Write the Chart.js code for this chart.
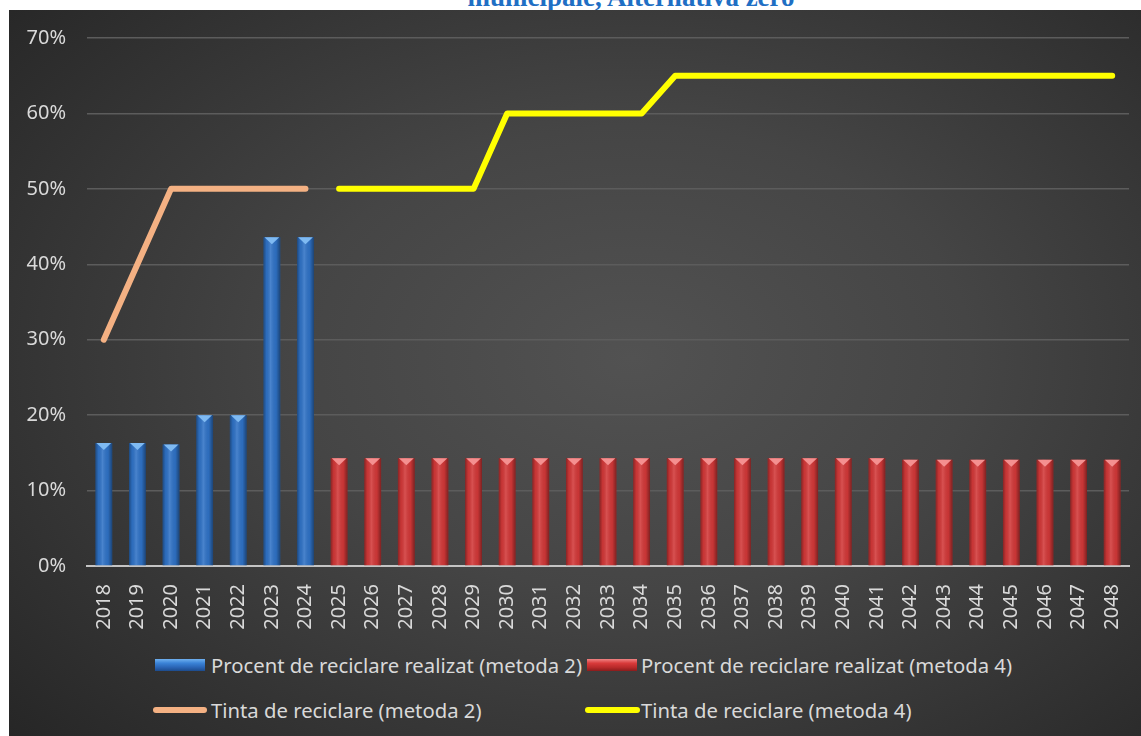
<!DOCTYPE html>
<html>
<head>
<meta charset="utf-8">
<script src="https://cdn.jsdelivr.net/npm/chart.js@4"></script>
<style>
  html, body { margin: 0; padding: 0; background: #ffffff; width: 1141px; height: 736px; overflow: hidden; position: relative; }
  #title { position: absolute; left: 0; width: 1141px; top: -16px; text-align: center; font-family: "Liberation Serif", serif; font-weight: bold; font-size: 27px; line-height: 27px; color: #1F6FC4; padding-left: 121px; box-sizing: border-box; }
  #panel { position: absolute; left: 9px; top: 10px; width: 1132px; height: 726px;
    background: radial-gradient(ellipse 75% 80% at 55% 48%, #525252 0%, #454545 40%, #2d2d2d 85%, #252525 100%); }
  #panel canvas { position: absolute; left: 0; top: 0; }
  .lg { position: absolute; font-family: "Noto Sans", sans-serif; font-size: 20.3px; color: #d9d9d9; line-height: 24px; white-space: nowrap; }
  .sw { position: absolute; }
</style>
</head>
<body>
<div id="title">municipale, Alternativa zero</div>
<div id="panel"><canvas id="c" width="1132" height="630"></canvas></div>
<div class="sw" id="sw0" style="left:155px;top:659px;width:50px;height:12px;background:linear-gradient(#6fb0ef 0%, #3a82d6 35%, #2a64b4 70%, #1d4b8c 100%);"></div>
<div class="lg" id="lg0" style="left:211px;top:653px;"></div>
<div class="sw" id="sw1" style="left:587px;top:659px;width:50px;height:12px;background:linear-gradient(#f08484 0%, #d83a3a 35%, #b82a2a 70%, #8a1c1c 100%);"></div>
<div class="lg" id="lg1" style="left:641px;top:653px;"></div>
<div class="sw" id="sw2" style="left:153px;top:707px;width:54px;height:6px;border-radius:3px;background:#F4B183;"></div>
<div class="lg" id="lg2" style="left:211px;top:698px;"></div>
<div class="sw" id="sw3" style="left:585px;top:707px;width:55px;height:6px;border-radius:3px;background:#FFFF00;"></div>
<div class="lg" id="lg3" style="left:641px;top:698px;"></div>
<script>
const years = ["2018","2019","2020","2021","2022","2023","2024","2025","2026","2027","2028","2029","2030","2031","2032","2033","2034","2035","2036","2037","2038","2039","2040","2041","2042","2043","2044","2045","2046","2047","2048"];
const seriesNames = [
  "Procent de reciclare realizat (metoda 2)",
  "Procent de reciclare realizat (metoda 4)",
  "Tinta de reciclare (metoda 2)",
  "Tinta de reciclare (metoda 4)"
];
const recycledMethod2 = [16.3,16.3,16.1,20.0,20.0,43.6,43.6,null,null,null,null,null,null,null,null,null,null,null,null,null,null,null,null,null,null,null,null,null,null,null,null];
const recycledMethod4 = [null,null,null,null,null,null,null,14.3,14.3,14.3,14.3,14.3,14.3,14.3,14.3,14.3,14.3,14.3,14.3,14.3,14.3,14.3,14.3,14.3,14.1,14.1,14.1,14.1,14.1,14.1,14.1];
const targetMethod2 = [30,40,50,50,50,50,50,null,null,null,null,null,null,null,null,null,null,null,null,null,null,null,null,null,null,null,null,null,null,null,null];
const targetMethod4 = [null,null,null,null,null,null,null,50,50,50,50,50,60,60,60,60,60,65,65,65,65,65,65,65,65,65,65,65,65,65,65];
const yTicks = [0,10,20,30,40,50,60,70];

seriesNames.forEach((n,i)=>{ document.getElementById('lg'+i).textContent = n; });

const bevel = {
  id: 'bevel',
  afterDatasetDraw(chart, args) {
    const ds = chart.data.datasets[args.index];
    if (ds.type !== 'bar') return;
    const ctx = chart.ctx;
    const tri = ds.bevelColor;
    ctx.save();
    args.meta.data.forEach((el, i) => {
      if (ds.data[i] === null || ds.data[i] === undefined) return;
      const p = el.getProps(['x','y','base','width'], true);
      const left = p.x - p.width/2, right = p.x + p.width/2;
      const g = ctx.createLinearGradient(left, 0, right, 0);
      g.addColorStop(0, 'rgba(0,0,0,0.35)');
      g.addColorStop(0.18, 'rgba(0,0,0,0.05)');
      g.addColorStop(0.42, 'rgba(255,255,255,0.13)');
      g.addColorStop(0.75, 'rgba(0,0,0,0.05)');
      g.addColorStop(1, 'rgba(0,0,0,0.4)');
      ctx.fillStyle = g;
      ctx.fillRect(left, p.y, p.width, p.base - p.y);
      ctx.beginPath();
      ctx.moveTo(left + 1, p.y);
      ctx.lineTo(right - 1, p.y);
      ctx.lineTo(p.x, p.y + p.width*0.42);
      ctx.closePath();
      ctx.fillStyle = tri;
      ctx.fill();
    });
    ctx.restore();
  }
};

new Chart(document.getElementById('c'), {
  type: 'bar',
  data: {
    labels: years,
    datasets: [
      { type:'bar', label: seriesNames[0], data: recycledMethod2, backgroundColor:'#2f72c6', bevelColor:'#7fbaf2', grouped:false, barPercentage:0.5, categoryPercentage:1, order:2 },
      { type:'bar', label: seriesNames[1], data: recycledMethod4, backgroundColor:'#d23838', bevelColor:'#f49090', grouped:false, barPercentage:0.5, categoryPercentage:1, order:2 },
      { type:'line', label: seriesNames[2], data: targetMethod2, borderColor:'#F4B183', borderWidth:6, pointRadius:0, borderCapStyle:'round', borderJoinStyle:'round', tension:0, spanGaps:false, order:1 },
      { type:'line', label: seriesNames[3], data: targetMethod4, borderColor:'#FFFF00', borderWidth:6, pointRadius:0, borderCapStyle:'round', borderJoinStyle:'round', tension:0, spanGaps:false, order:1 }
    ]
  },
  options: {
    responsive: false,
    animation: false,
    layout: { padding: { top: 28, right: 12, left: 0, bottom: 0 } },
    plugins: { legend: { display: false }, tooltip: { enabled: false }, title: { display: false } },
    scales: {
      x: {
        grid: { display: false },
        border: { display: true, color: '#c4c4c4', width: 2 },
        ticks: { color: '#d9d9d9', font: { family: 'Noto Sans', size: 20 }, minRotation: 90, maxRotation: 90, autoSkip: false, padding: 10 },
        afterFit(scale) { scale.height = 74; scale.paddingLeft = 0; scale.paddingRight = 0; }
      },
      y: {
        min: 0, max: 70,
        afterBuildTicks(scale) { scale.ticks = yTicks.map(v => ({ value: v })); },
        grid: { color: '#5c5c5c', lineWidth: 1.5, drawTicks: false },
        border: { display: false },
        ticks: { color: '#d9d9d9', font: { family: 'Noto Sans', size: 20 }, padding: 21, callback: v => v + '%' },
        afterFit(scale) { scale.width = 78; scale.paddingTop = 0; scale.paddingBottom = 0; }
      }
    }
  },
  plugins: [bevel]
});
</script>
</body>
</html>
